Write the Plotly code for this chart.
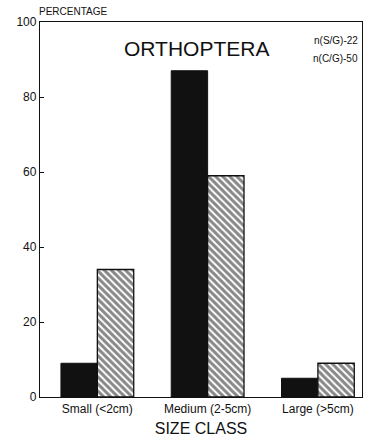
import plotly.graph_objects as go

# Size classes and percentage of individuals per class for each group
size_classes = ["Small (<2cm)", "Medium (2-5cm)", "Large (>5cm)"]
pct_sg = [9, 87, 5]     # n(S/G)=22, solid bars
pct_cg = [34, 59, 9]    # n(C/G)=50, hatched bars
y_ticks = [0, 20, 40, 60, 80, 100]

x_pos = list(range(len(size_classes)))
font = "Liberation Sans, Arial, sans-serif"
ink = "#111111"

fig = go.Figure()
fig.add_trace(go.Bar(
    x=x_pos, y=pct_sg, name="S/G",
    marker=dict(color=ink, line=dict(color=ink, width=1)),
    width=0.33, offset=-0.33,
))
fig.add_trace(go.Bar(
    x=x_pos, y=pct_cg, name="C/G",
    marker=dict(
        color="white",
        line=dict(color=ink, width=1.3),
        pattern=dict(shape="\\", fgcolor=ink, bgcolor="white",
                     size=5, solidity=0.6),
    ),
    width=0.33, offset=0,
))

fig.update_layout(
    width=367, height=447,
    margin=dict(l=40, r=5, t=22, b=50),
    plot_bgcolor="white", paper_bgcolor="white",
    showlegend=False,
    barmode="overlay",
    font=dict(family=font, color=ink),
    xaxis=dict(
        range=[-0.52, 2.4],
        tickvals=x_pos, ticktext=size_classes,
        showline=True, linecolor=ink, linewidth=1.3, mirror=True,
        ticks="", showgrid=False, zeroline=False,
        tickfont=dict(size=12, family=font, color=ink),
        title=dict(text="SIZE CLASS", font=dict(size=16, family=font, color=ink), standoff=8),
    ),
    yaxis=dict(
        range=[0, 100],
        tickvals=y_ticks,
        showline=True, linecolor=ink, linewidth=1.3, mirror=True,
        ticks="inside", ticklen=4, tickcolor=ink,
        showgrid=False, zeroline=False,
        tickfont=dict(size=12, family=font, color=ink),
    ),
    annotations=[
        dict(text="PERCENTAGE", xref="paper", yref="paper", x=-0.01, y=1.0,
             xanchor="left", yanchor="bottom", showarrow=False,
             font=dict(size=10, family=font, color=ink), yshift=3),
        dict(text="ORTHOPTERA", xref="paper", yref="paper", x=0.485, y=0.928,
             xanchor="center", yanchor="middle", showarrow=False,
             font=dict(size=21, family=font, color=ink)),
        dict(text="n(S/G)-22", xref="paper", yref="paper", x=0.995, y=0.95,
             xanchor="right", yanchor="middle", showarrow=False,
             font=dict(size=10, family=font, color=ink)),
        dict(text="n(C/G)-50", xref="paper", yref="paper", x=0.995, y=0.903,
             xanchor="right", yanchor="middle", showarrow=False,
             font=dict(size=10, family=font, color=ink)),
    ],
)

fig.write_html("out.html")
